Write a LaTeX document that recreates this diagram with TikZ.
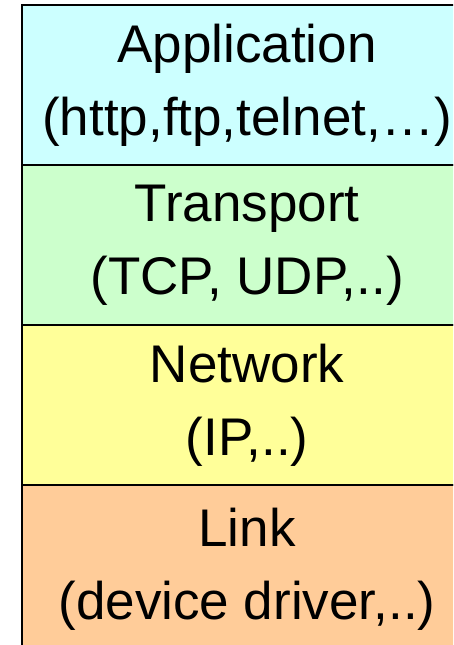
\documentclass[tikz,border=0pt]{standalone}
\usepackage{fontspec}
\setmainfont{Liberation Sans}
\usepackage{xcolor}
\usepackage{tikz}
\usetikzlibrary{
  positioning
}
\definecolor{lyApp}{HTML}{CCFFFF}
\definecolor{lyTrans}{HTML}{CCFFCC}
\definecolor{lyNet}{HTML}{FFFF99}
\definecolor{lyLink}{HTML}{FFCC99}
\tikzset{
  layer/.style={
    draw=black, line width=2.8pt, rectangle, outer sep=0pt, inner sep=0pt,
    minimum width=450pt, minimum height=160pt, align=center,
    execute at begin node={\rule{0pt}{46pt}},
    font=\fontsize{53}{73}\selectfont
  },
  applayer/.style={layer, fill=lyApp},
  translayer/.style={layer, fill=lyTrans},
  netlayer/.style={layer, fill=lyNet},
  linklayer/.style={layer, fill=lyLink, minimum height=168pt}
}
\begin{document}
\begin{tikzpicture}[x=1pt, y=1pt, node distance=0pt]
  \useasboundingbox (0,0) rectangle (453,-645);
  \clip (0,0) rectangle (453,-645);
  \node[applayer, anchor=north west] (app) at (22,-5) {Application\\(http,ftp,telnet,…)};
  \node[translayer, below=of app] (trans) {Transport\\(TCP, UDP,..)};
  \node[netlayer, below=of trans] (net) {Network\\(IP,..)};
  \node[linklayer, below=of net] (link) {Link\\(device driver,..)};
\end{tikzpicture}
\end{document}
